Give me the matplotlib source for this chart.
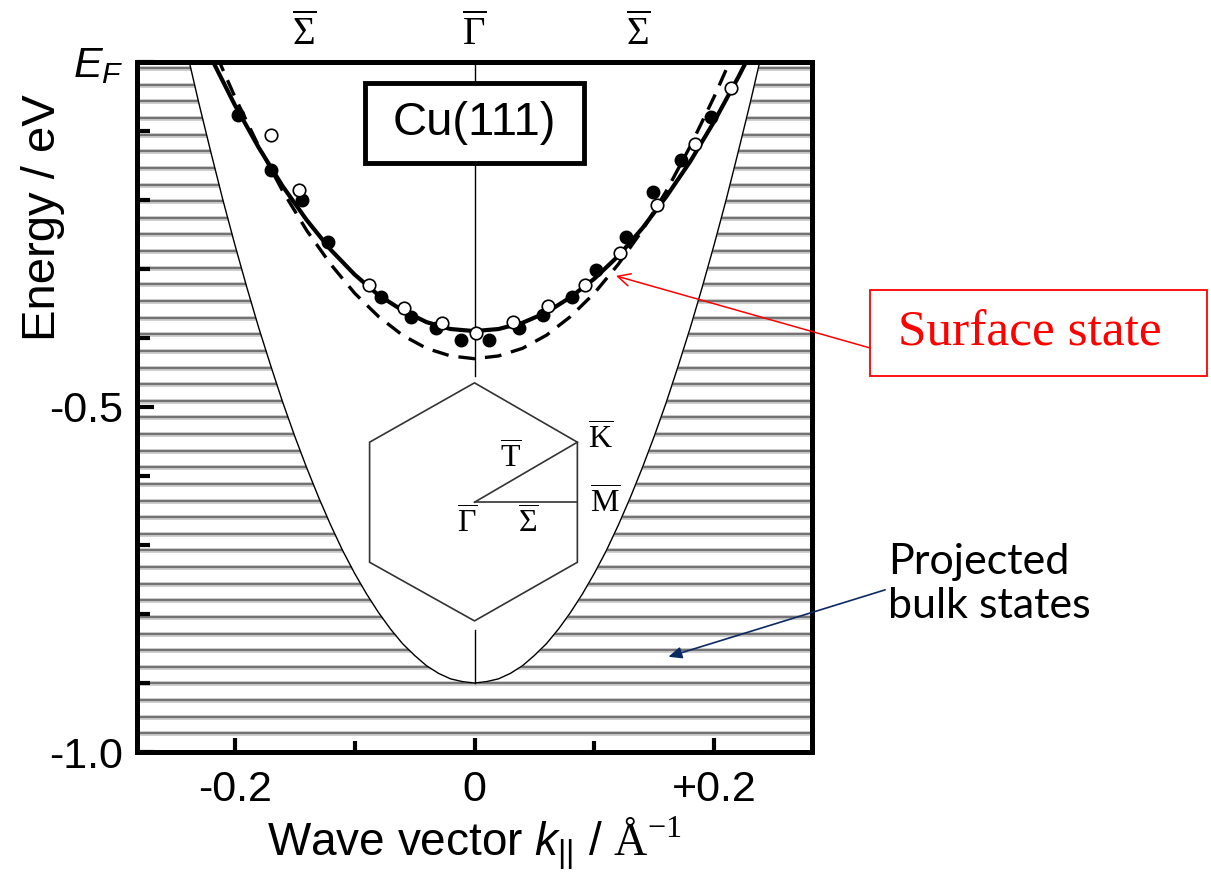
import numpy as np
import matplotlib
matplotlib.use("Agg")
import matplotlib.pyplot as plt
from matplotlib.patches import Rectangle, Polygon

plt.rcParams['font.family'] = 'Liberation Sans'
plt.rcParams['mathtext.fontset'] = 'custom'
plt.rcParams['mathtext.rm'] = 'Liberation Serif'
plt.rcParams['mathtext.it'] = 'Liberation Sans:italic'
plt.rcParams['mathtext.sf'] = 'Liberation Sans'
plt.rcParams['axes.unicode_minus'] = False

# --- data (k in 1/Angstrom, E in eV) ---
# edge of the projected bulk band gap
gap_k = [-0.24, -0.23, -0.22, -0.21, -0.20, -0.19, -0.18, -0.17, -0.16, -0.15, -0.14, -0.13,
         -0.12, -0.11, -0.10, -0.09, -0.08, -0.07, -0.06, -0.05, -0.04, -0.03, -0.02, -0.01,
         0.0, 0.01, 0.02, 0.03, 0.04, 0.05, 0.06, 0.07, 0.08, 0.09, 0.10, 0.11, 0.12, 0.13,
         0.14, 0.15, 0.16, 0.17, 0.18, 0.19, 0.20, 0.21, 0.22, 0.23, 0.24]
gap_E = [0.016, -0.059, -0.130, -0.199, -0.264, -0.326, -0.385, -0.440, -0.493, -0.542, -0.588, -0.631,
         -0.671, -0.708, -0.741, -0.771, -0.798, -0.822, -0.843, -0.860, -0.875, -0.886, -0.894, -0.898,
         -0.900, -0.898, -0.894, -0.886, -0.875, -0.860, -0.843, -0.822, -0.798, -0.771, -0.741, -0.708,
         -0.671, -0.631, -0.588, -0.542, -0.493, -0.440, -0.385, -0.326, -0.264, -0.199, -0.130, -0.059, 0.016]

# surface state, fit (solid) and calculation (dashed)
fit_k = [-0.22, -0.20, -0.18, -0.16, -0.14, -0.12, -0.10, -0.08, -0.06, -0.04, -0.02, 0.0,
         0.02, 0.04, 0.06, 0.08, 0.10, 0.12, 0.14, 0.16, 0.18, 0.20, 0.22, 0.23]
fit_E = [0.007, -0.062, -0.124, -0.180, -0.229, -0.272, -0.308, -0.338, -0.360, -0.377, -0.387, -0.390,
         -0.387, -0.378, -0.363, -0.341, -0.314, -0.281, -0.241, -0.195, -0.144, -0.086, -0.022, 0.012]
calc_k = [-0.215, -0.20, -0.18, -0.16, -0.14, -0.12, -0.10, -0.08, -0.06, -0.04, -0.02, 0.0,
          0.02, 0.04, 0.06, 0.08, 0.10, 0.12, 0.14, 0.16, 0.18, 0.20, 0.215]
calc_E = [0.009, -0.050, -0.122, -0.187, -0.244, -0.293, -0.335, -0.369, -0.396, -0.415, -0.426, -0.430,
          -0.426, -0.415, -0.396, -0.369, -0.335, -0.293, -0.244, -0.187, -0.122, -0.050, 0.009]

# measured points
filled_k = [-0.197, -0.170, -0.144, -0.122, -0.078, -0.053, -0.0325, -0.011, 0.012, 0.037,
            0.0575, 0.081, 0.101, 0.126, 0.149, 0.172, 0.197]
filled_E = [-0.077, -0.157, -0.200, -0.261, -0.341, -0.370, -0.386, -0.403, -0.403, -0.386,
            -0.367, -0.341, -0.301, -0.254, -0.188, -0.142, -0.080]
open_k = [-0.170, -0.1467, -0.0883, -0.059, -0.0275, 0.001, 0.0325, 0.061, 0.092, 0.121,
          0.1525, 0.184, 0.214]
open_E = [-0.106, -0.186, -0.323, -0.357, -0.378, -0.393, -0.377, -0.354, -0.323, -0.277,
          -0.207, -0.119, -0.038]

# surface Brillouin zone sketch
hex_k = [0.0, 0.0858, 0.0858, 0.0, -0.0875, -0.0875]
hex_E = [-0.465, -0.551, -0.725, -0.810, -0.725, -0.551]
gamma_pt = (0.0, -0.638)

fig = plt.figure(figsize=(12.11, 8.73), dpi=100)
ax = fig.add_axes([137 / 1211, 121 / 873, 675 / 1211, 690 / 873])
ax.set_xlim(-0.2815, 0.2815)
ax.set_ylim(-1.0, 0.0)

# horizontal hatching for the projected bulk states
levels = np.arange(-0.009, -0.98, -0.0241)
ax.hlines(levels, -0.3, 0.3, color='#c8c8c8', lw=3.4, zorder=1)
ax.hlines(levels, -0.3, 0.3, color='#737373', lw=1.5, zorder=1)
ax.fill_between(gap_k, gap_E, 0.05, color='white', zorder=2, lw=0)
ax.plot(gap_k, gap_E, color='black', lw=1.0, zorder=3)

# Gamma line
ax.plot([0, 0], [0, -0.455], color='black', lw=1.0, zorder=3)
ax.plot([0, 0], [-0.823, -0.9], color='black', lw=1.0, zorder=3)

# surface state
ax.plot(calc_k, calc_E, color='black', lw=2.4, ls=(0, (5, 3)), zorder=4)
ax.plot(fit_k, fit_E, color='black', lw=3.0, zorder=4)
ax.plot(filled_k, filled_E, 'o', color='black', ms=9, zorder=5)
ax.plot(open_k, open_E, 'o', mfc='white', mec='black', mew=1.2, ms=9, zorder=6)

# Cu(111) box
ax.add_patch(Rectangle((-0.091, -0.146), 0.182, 0.116, fc='white', ec='black', lw=3.5, zorder=7))
ax.text(0, -0.089, 'Cu(111)', fontsize=34, ha='center', va='center', zorder=8)

# hexagon
ax.add_patch(Polygon(list(zip(hex_k, hex_E)), closed=True, fill=False, ec='#333333', lw=1.2, zorder=3))
ax.plot([gamma_pt[0], hex_k[1]], [gamma_pt[1], hex_E[1]], color='#333333', lw=1.2, zorder=3)
ax.plot([gamma_pt[0], hex_k[1]], [gamma_pt[1], gamma_pt[1]], color='#333333', lw=1.2, zorder=3)
sym = dict(fontsize=23, ha='center', va='center', zorder=8)
ax.text(0.105, -0.547, r'$\overline{\mathrm{K}}$', **sym)
ax.text(0.109, -0.640, r'$\overline{\mathrm{M}}$', **sym)
ax.text(0.030, -0.575, r'$\overline{\mathrm{T}}$', **sym)
ax.text(-0.006, -0.668, r'$\overline{\mathrm{\Gamma}}$', **sym)
ax.text(0.045, -0.668, r'$\overline{\mathrm{\Sigma}}$', **sym)

# symmetry points above the frame
top = dict(fontsize=28, ha='center', va='center')
ax.text(-0.142, 0.041, r'$\overline{\mathrm{\Sigma}}$', **top)
ax.text(0.0, 0.041, r'$\overline{\mathrm{\Gamma}}$', **top)
ax.text(0.137, 0.041, r'$\overline{\mathrm{\Sigma}}$', **top)

# axes styling
for s in ax.spines.values():
    s.set_linewidth(3.6)
ax.set_xticks([-0.2, 0, 0.2])
ax.set_xticklabels(['-0.2', '0', '+0.2'])
ax.set_xticks([-0.1, 0.1], minor=True)
ax.set_yticks([-1.0, -0.5, 0.0])
ax.set_yticklabels(['-1.0', '-0.5', '$E_F$'])
ax.set_yticks(np.arange(-0.9, -0.05, 0.1), minor=True)
ax.tick_params(axis='both', which='both', direction='in', width=3.0, labelsize=31)
ax.tick_params(axis='x', which='major', length=10, pad=13)
ax.tick_params(axis='x', which='minor', length=8)
ax.tick_params(axis='y', which='major', length=12, pad=10)
ax.tick_params(axis='y', which='minor', length=9)
ax.set_xlabel(r'Wave vector $k_{\mathsf{||}}$ / $\mathrm{\AA}^{\mathrm{-1}}$', fontsize=33, labelpad=3)
ax.set_ylabel('Energy / eV', fontsize=34)
ax.yaxis.set_label_coords(-0.107, 0.775)

# annotations
ax.add_patch(Rectangle((0.33, -0.455), 0.281, 0.125, fill=False, ec='red', lw=1.3, clip_on=False))
ax.text(0.463, -0.393, 'Surface state', color='red', fontsize=37, family='Liberation Serif',
        ha='center', va='center')
ax.annotate('', xy=(0.118, -0.310), xytext=(0.33, -0.4145), annotation_clip=False,
            arrowprops=dict(arrowstyle='->, head_length=0.9, head_width=0.45', color='red', lw=1.1,
                            shrinkA=0, shrinkB=0))
ax.text(0.345, -0.697, 'Projected\nbulk states', fontsize=31, family='Lato',
        ha='left', va='top', linespacing=1.2)
ax.annotate('', xy=(0.1617, -0.862), xytext=(0.3425, -0.765), annotation_clip=False,
            arrowprops=dict(arrowstyle='-|>, head_length=0.8, head_width=0.35', color='#0b2a63', lw=1.2,
                            shrinkA=0, shrinkB=0))

fig.savefig('out.png', dpi=100)
